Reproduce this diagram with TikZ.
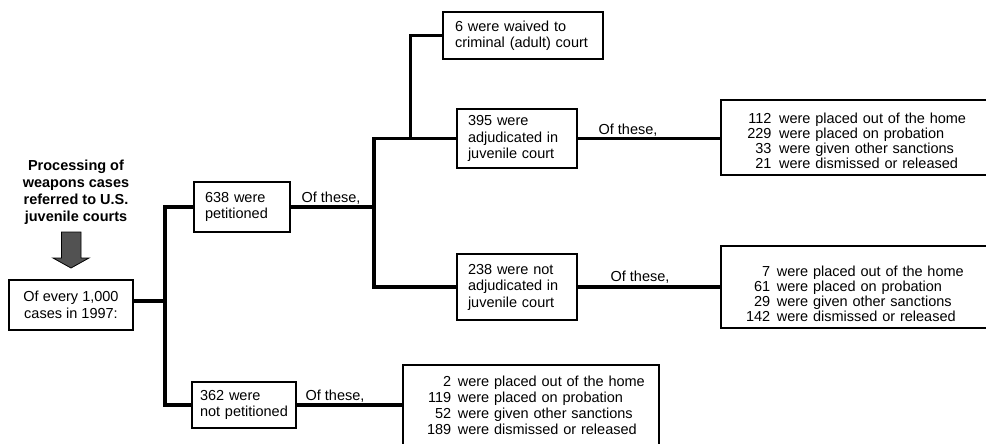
\documentclass[tikz,border=0pt]{standalone}
\usepackage{fontspec}
\setmainfont{Liberation Sans}
\newcommand\nohyphx{\hyphenpenalty=10000\relax\exhyphenpenalty=10000\relax}
\begin{document}
\begin{tikzpicture}[x=1pt,y=-1pt,
  box/.style={draw, line width=1.6pt, inner xsep=0pt, inner ysep=0pt, align=left,
    font={\fontsize{14.5}{16.5}\selectfont\nohyphx}},
  listbox/.style={draw, line width=1.6pt, inner ysep=0pt, anchor=west},
  conn/.style={line width=3.8pt},
  lbl/.style={font=\fontsize{14.5}{16.5}\selectfont, inner sep=0pt, anchor=base}]
\clip (0,0) rectangle (986,444);
\fill[white] (0,0) rectangle (986,444);

% title and arrow
\node[font=\bfseries\fontsize{14.5}{17.2}\selectfont, align=center, inner sep=0pt, anchor=north] (title) at (76,159.5)
  {Processing of\\weapons cases\\referred to U.S.\\juvenile courts};
\draw[line width=0.8pt, fill=black!68] (61.5,232) -- (81,232) -- (81,258) -- (89,258) -- (71,268)
  -- (53,258) -- (61.5,258) -- cycle;

% boxes
\node[box, align=center, minimum width=124pt, minimum height=50pt] (every) at (71,305)
  {Of every 1,000\\cases in 1997:};
\node[box, text width=74pt, minimum width=96pt, minimum height=50pt] (pet) at (242,207)
  {638 were\\petitioned};
\node[box, text width=88pt, minimum width=104pt, minimum height=46pt] (npet) at (244,405)
  {362 were\\not petitioned};
\node[box, text width=136pt, minimum width=160pt, minimum height=47pt] (waiv) at (523,35.5)
  {6 were waived to\\criminal (adult) court};
\node[box, text width=98pt, minimum width=120pt, minimum height=59pt] (adj) at (517,138.5)
  {395 were\\adjudicated in\\juvenile court};
\node[box, text width=98pt, minimum width=120pt, minimum height=66pt] (nadj) at (517,287)
  {238 were not\\adjudicated in\\juvenile court};

\node[listbox, minimum width=270pt, minimum height=75pt, text width=217pt, inner xsep=26.5pt,
  font=\fontsize{14.5}{15}\selectfont] (res1) at (720,137.5)
  {\begin{tabular}{@{}r@{\hspace{7.6pt}}l@{}}
   \rule{0pt}{21pt}112 & were placed out of the home\\
   229 & were placed on probation\\
   33 & were given other sanctions\\
   21 & were dismissed or released
   \end{tabular}};
\node[listbox, minimum width=270pt, minimum height=82pt, text width=219.4pt, inner xsep=25.3pt,
  font=\fontsize{14.5}{15}\selectfont] (res2) at (720,287)
  {\begin{tabular}{@{}r@{\hspace{6.5pt}}l@{}}
   \rule{0pt}{28.9pt}7 & were placed out of the home\\
   61 & were placed on probation\\
   29 & were given other sanctions\\
   142 & were dismissed or released
   \end{tabular}};
\node[listbox, minimum width=256pt, minimum height=83.6pt, text width=207.5pt, inner xsep=24.25pt,
  font=\fontsize{14.5}{16}\selectfont] (res3) at (402,406.8)
  {\begin{tabular}{@{}r@{\hspace{6.6pt}}l@{}}
   2 & were placed out of the home\\
   119 & were placed on probation\\
   52 & were given other sanctions\\
   189 & were dismissed or released
   \end{tabular}};

% junction coordinates
\coordinate (j0) at (165,301);
\coordinate (j2) at (374,0);
\coordinate (j3) at (410.5,0);

% connectors
\draw[conn] (every.east |- j0) -- (j0);
\draw[conn] (pet.west) -- (pet.west -| j0) -- (npet.west -| j0) -- (npet.west);
\draw[conn] (pet.east) -- (pet.east -| j2);
\draw[conn] (adj.west) -- (adj.west -| j2) -- (nadj.west -| j2) -- (nadj.west);
\draw[conn] (waiv.west) -- (waiv.west -| j3) -- (adj.west -| j3);
\draw[conn] (adj.east) -- (adj.east -| res1.west);
\draw[conn] (nadj.east) -- (nadj.east -| res2.west);
\draw[conn] (npet.east) -- (npet.east -| res3.west);

% labels
\node[lbl] (l1) at (331,202) {Of these,};
\node[lbl] (l2) at (628,134) {Of these,};
\node[lbl] (l3) at (640,281) {Of these,};
\node[lbl] (l4) at (335,400) {Of these,};
\end{tikzpicture}
\end{document}
